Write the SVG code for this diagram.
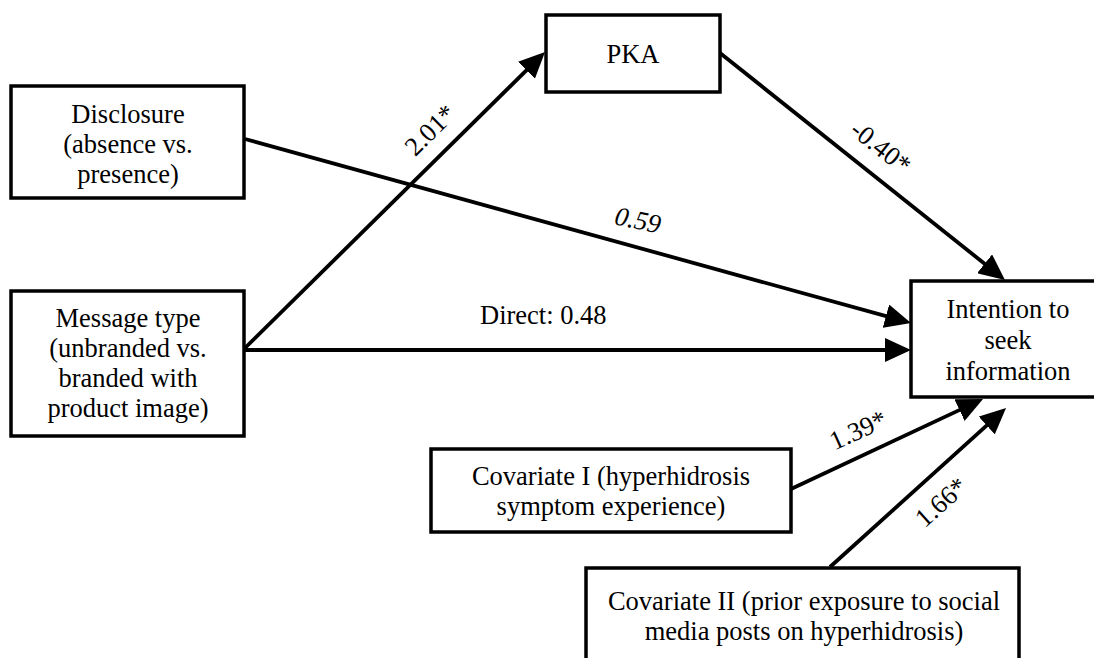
<svg xmlns="http://www.w3.org/2000/svg" width="1094" height="658" viewBox="0 0 1094 658">
  <defs>
    <marker id="head" markerUnits="userSpaceOnUse" markerWidth="26" markerHeight="24" refX="18" refY="12" orient="auto">
      <path d="M0,0 L26,12 L0,24 Z" fill="#000"/>
    </marker>
    <style>
      .box { fill: #fff; stroke: #000; stroke-width: 3.5; }
      .edge { stroke: #000; stroke-width: 3.8; fill: none; marker-end: url(#head); }
      text { font-family: 'Liberation Serif', 'DejaVu Serif', serif; font-size: 26.5px; fill: #000; text-anchor: middle; }
    </style>
  </defs>
  <rect width="1094" height="658" fill="#fff"/>

  <!-- paths with their coefficients -->
  <g id="connectors">
    <line class="edge" x1="245" y1="348" x2="539.3" y2="57.6"/>
    <line class="edge" x1="245" y1="139" x2="903.3" y2="320.9"/>
    <line class="edge" x1="245" y1="350" x2="903" y2="350"/>
    <line class="edge" x1="720" y1="53" x2="998.7" y2="275"/>
    <line class="edge" x1="791" y1="489" x2="975.8" y2="402.4"/>
    <line class="edge" x1="830" y1="567" x2="1000.1" y2="413.4"/>

    <text transform="translate(430,130) rotate(-44.7)" y="9">2.01*</text>
    <text transform="translate(881,147) rotate(38.5)" y="9">-0.40*</text>
    <text transform="translate(638,220) rotate(12)" y="9" font-style="italic">0.59</text>
    <text x="480" y="324" style="text-anchor:start">Direct: 0.48</text>
    <text transform="translate(858,430) rotate(-24.4)" y="9">1.39*</text>
    <text transform="translate(941,502) rotate(-41.9)" y="9">1.66*</text>
  </g>

  <g id="disclosure">
    <rect class="box" x="11" y="86" width="233" height="112"/>
    <text x="128" y="123">Disclosure</text>
    <text x="128" y="153">(absence vs.</text>
    <text x="128" y="183">presence)</text>
  </g>

  <g id="message-type">
    <rect class="box" x="11" y="291" width="233" height="145"/>
    <text x="128" y="327">Message type</text>
    <text x="128" y="357">(unbranded vs.</text>
    <text x="128" y="387">branded with</text>
    <text x="128" y="417">product image)</text>
  </g>

  <g id="pka">
    <rect class="box" x="546" y="15" width="174" height="77"/>
    <text x="633" y="63">PKA</text>
  </g>

  <g id="intention">
    <rect class="box" x="911" y="281" width="200" height="116"/>
    <text x="1008" y="318">Intention to</text>
    <text x="1008" y="349">seek</text>
    <text x="1008" y="380">information</text>
  </g>

  <g id="covariate-1">
    <rect class="box" x="431" y="449" width="360" height="83"/>
    <text x="611" y="485">Covariate I (hyperhidrosis</text>
    <text x="611" y="515">symptom experience)</text>
  </g>

  <g id="covariate-2">
    <rect class="box" x="586" y="568" width="433" height="110"/>
    <text x="804" y="610">Covariate II (prior exposure to social</text>
    <text x="804" y="640">media posts on hyperhidrosis)</text>
  </g>
</svg>
